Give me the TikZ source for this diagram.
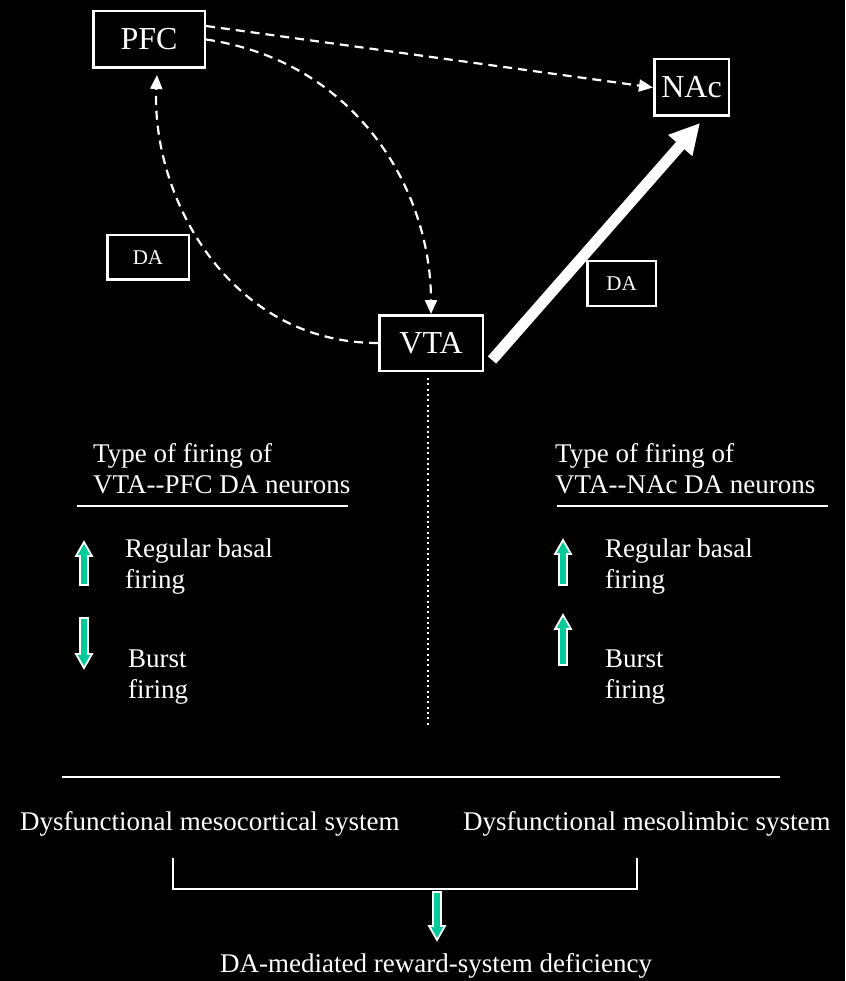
\documentclass[tikz,border=0pt]{standalone}
\usepackage{fontspec}
\setmainfont{Liberation Serif}
\usetikzlibrary{arrows.meta,positioning,calc}
\definecolor{firing}{HTML}{00C99A}

\begin{document}
\begin{tikzpicture}[x=1pt, y=-1pt,
  every node/.style={text=white, font=\fontsize{27}{31}\selectfont},
  region/.style={draw=white, line width=2.5pt, inner sep=0pt},
  bigbox/.style={region, minimum height=56.5pt, font=\fontsize{32}{36}\selectfont},
  dabox/.style={region, minimum height=44.5pt, font=\fontsize{21}{24}\selectfont},
  txt/.style={anchor=base west, align=left, inner sep=0pt},
  projection/.style={draw=white, line width=2.2pt, dash pattern=on 9pt off 6pt,
    -{Triangle[length=14pt,width=12pt]}},
  sepline/.style={draw=white, line width=2.5pt},
  pics/fire/.style={code={
    \filldraw[fill=firing, draw=white, line width=1.8pt]
      (-4,0) -- (-4,-#1+14) -- (-8,-#1+14) -- (0,-#1) -- (8,-#1+14) -- (4,-#1+14) -- (4,0) -- cycle;
  }}
]
  % background and page size
  \fill[black] (0,0) rectangle (845,981);
  \useasboundingbox (0,0) rectangle (845,981);

  % brain regions
  \node[bigbox, minimum width=111.5pt] (PFC) at (149,39.5) {PFC};
  \node[bigbox, minimum width=74.5pt]  (NAc) at (691.5,87.5) {NAc};
  \node[bigbox, minimum width=103.5pt, minimum height=55.5pt] (VTA) at (431,343) {VTA};
  \node[dabox, minimum width=81.5pt] (DAl) at (148,257.5) {DA};
  \node[dabox, minimum width=68.5pt] (DAr) at (621.5,283.5) {DA};

  % projections
  \draw[projection] ($(PFC.east)+(0,-13.5)$) -- (NAc.west);
  \draw[projection] (PFC.east) .. controls +(150,22) and +(0,-125) .. (VTA.north);
  \draw[projection] (VTA.west) .. controls +(-150,0) and +(-6,120) .. ($(PFC.south)+(8,6)$);
  \draw[white, line width=11pt, -{Triangle[length=30pt,width=30pt]}]
    ($(VTA.south east)+(8,-12)$) -- ($(NAc.south)+(8.5,6)$);

  % divider under VTA
  \coordinate (midend) at (428,727);
  \draw[white, line width=2pt, dash pattern=on 2pt off 3.3pt] ($(VTA.south)+(-3,6)$) -- (midend);

  % mesocortical side (node base = last line)
  \node[txt] (hdL) at (93,493) {Type of firing of\\VTA-\kern0pt-PFC DA neurons};
  \draw[sepline] (77,506) -- (348,506);
  \pic at (84,585) {fire=43};
  \node[txt] (regL) at (125,588) {Regular basal\\firing};
  \pic[rotate=180] at (84,618) {fire=50};
  \node[txt] (burL) at (128,698) {Burst\\firing};

  % mesolimbic side
  \node[txt] (hdR) at (555,493) {Type of firing of\\VTA-\kern0pt-NAc DA neurons};
  \draw[sepline] (557,506) -- (828,506);
  \pic at (563,585) {fire=45};
  \node[txt] (regR) at (605,588) {Regular basal\\firing};
  \pic at (563,665) {fire=50};
  \node[txt] (burR) at (605,698) {Burst\\firing};

  % outcome
  \draw[sepline] (62,777) -- (780,777);
  \node[txt] (meso) at (20,830) {Dysfunctional mesocortical system};
  \node[txt] (limb) at (463,830) {Dysfunctional mesolimbic system};
  \draw[sepline] (173,858) -- (173,889) -- (637,889) -- (637,858);
  \pic[rotate=180] at (437,892) {fire=48};
  \node[txt] (defi) at (220,972) {DA-mediated reward-system deficiency};
\end{tikzpicture}
\end{document}
